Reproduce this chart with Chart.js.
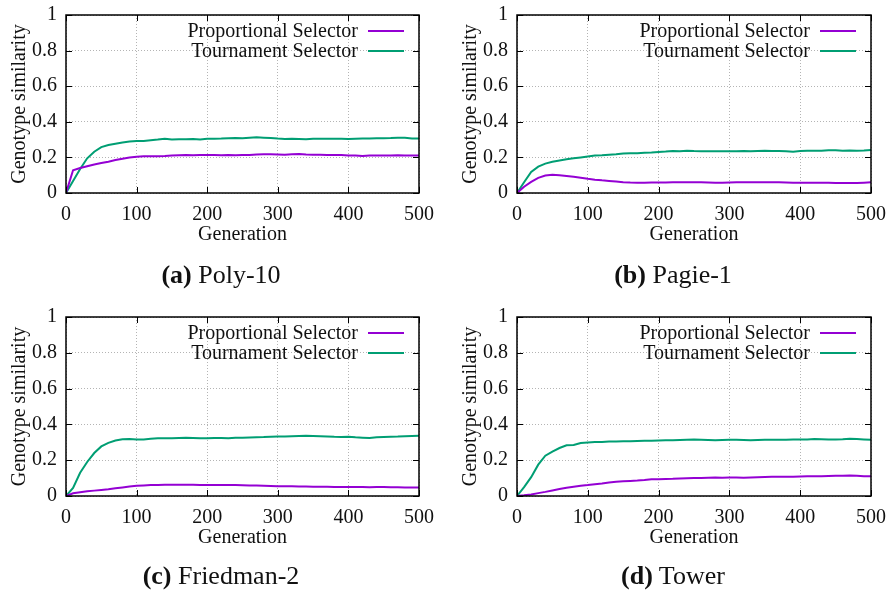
<!DOCTYPE html>
<html><head><meta charset="utf-8">
<script src="https://cdn.jsdelivr.net/npm/chart.js@4"></script>
<style>
body{margin:0;background:#fff;}
#wrap{position:relative;width:888px;height:601px;overflow:hidden;background:#fff;font-family:"Liberation Serif",serif;}
canvas{position:absolute;}
.cap{position:absolute;width:300px;text-align:center;font-size:26px;color:#111;line-height:30px;white-space:nowrap;}
</style></head><body>
<div id="wrap">
<canvas id="c0" width="444" height="300" style="left:0;top:0"></canvas>
<canvas id="c1" width="444" height="300" style="left:444px;top:0"></canvas>
<canvas id="c2" width="444" height="300" style="left:0;top:302px"></canvas>
<canvas id="c3" width="444" height="300" style="left:444px;top:302px"></canvas>
<div class="cap" id="cap0" style="left:71px;top:260px"></div>
<div class="cap" id="cap1" style="left:523px;top:260px"></div>
<div class="cap" id="cap2" style="left:71px;top:561px"></div>
<div class="cap" id="cap3" style="left:523px;top:561px"></div>
</div>
<script>
const generations = [0,10,20,30,40,50,60,70,80,90,100,110,120,130,140,150,160,170,180,190,200,210,220,230,240,250,260,270,280,290,300,310,320,330,340,350,360,370,380,390,400,410,420,430,440,450,460,470,480,490,500];
const xTicks = [0,100,200,300,400,500];
const yTicks = [0,0.2,0.4,0.6,0.8,1];
const seriesNames = ["Proportional Selector","Tournament Selector"];
const panelLetters = ["(a)","(b)","(c)","(d)"];
const panelNames = ["Poly-10","Pagie-1","Friedman-2","Tower"];

const polyProp = [0,0.128,0.14,0.15,0.16,0.168,0.176,0.185,0.193,0.199,0.204,0.206,0.206,0.207,0.208,0.21,0.212,0.213,0.212,0.213,0.213,0.213,0.212,0.213,0.212,0.213,0.214,0.216,0.217,0.217,0.216,0.215,0.218,0.219,0.216,0.215,0.215,0.214,0.213,0.213,0.211,0.211,0.208,0.21,0.21,0.211,0.211,0.212,0.211,0.211,0.21];
const polyTour = [0,0.068,0.135,0.195,0.232,0.258,0.27,0.277,0.284,0.289,0.292,0.292,0.296,0.3,0.305,0.301,0.302,0.302,0.303,0.301,0.305,0.305,0.306,0.308,0.309,0.307,0.31,0.313,0.311,0.309,0.306,0.304,0.305,0.304,0.302,0.305,0.305,0.305,0.305,0.305,0.304,0.305,0.306,0.306,0.307,0.308,0.309,0.311,0.31,0.306,0.306];
const pagieProp = [0,0.035,0.062,0.085,0.098,0.102,0.1,0.096,0.091,0.086,0.08,0.075,0.071,0.068,0.065,0.061,0.059,0.058,0.058,0.059,0.059,0.059,0.06,0.061,0.061,0.06,0.06,0.059,0.058,0.058,0.059,0.06,0.06,0.06,0.06,0.06,0.06,0.06,0.059,0.058,0.058,0.058,0.057,0.057,0.057,0.056,0.056,0.056,0.056,0.058,0.06];
const pagieTour = [0,0.06,0.118,0.148,0.165,0.175,0.183,0.19,0.195,0.2,0.205,0.21,0.212,0.215,0.218,0.222,0.223,0.224,0.226,0.228,0.231,0.233,0.236,0.235,0.238,0.236,0.235,0.234,0.235,0.235,0.234,0.235,0.236,0.235,0.236,0.237,0.236,0.236,0.235,0.232,0.236,0.237,0.237,0.238,0.24,0.24,0.238,0.239,0.238,0.239,0.241];
const friedProp = [0,0.015,0.021,0.026,0.03,0.034,0.038,0.043,0.048,0.053,0.057,0.059,0.061,0.062,0.063,0.063,0.063,0.063,0.063,0.062,0.062,0.062,0.062,0.061,0.061,0.06,0.059,0.058,0.057,0.056,0.055,0.055,0.054,0.053,0.053,0.052,0.052,0.051,0.05,0.05,0.05,0.05,0.05,0.049,0.05,0.05,0.049,0.049,0.048,0.047,0.047];
const friedTour = [0,0.045,0.13,0.19,0.24,0.277,0.297,0.31,0.317,0.318,0.316,0.316,0.32,0.322,0.322,0.323,0.324,0.325,0.324,0.323,0.323,0.324,0.324,0.322,0.325,0.326,0.327,0.328,0.329,0.331,0.332,0.333,0.334,0.335,0.336,0.335,0.334,0.333,0.331,0.33,0.331,0.328,0.326,0.324,0.328,0.33,0.331,0.332,0.334,0.335,0.336];
const towerProp = [0,0.004,0.009,0.016,0.023,0.031,0.039,0.046,0.052,0.057,0.061,0.066,0.07,0.075,0.079,0.082,0.084,0.086,0.089,0.093,0.094,0.095,0.096,0.098,0.099,0.1,0.101,0.102,0.103,0.102,0.103,0.104,0.102,0.104,0.105,0.106,0.107,0.107,0.108,0.108,0.109,0.11,0.11,0.111,0.112,0.113,0.113,0.114,0.113,0.111,0.11];
const towerTour = [0,0.05,0.105,0.175,0.225,0.248,0.268,0.283,0.285,0.296,0.299,0.301,0.302,0.304,0.305,0.306,0.306,0.307,0.308,0.309,0.31,0.311,0.312,0.313,0.314,0.315,0.314,0.313,0.312,0.313,0.314,0.314,0.313,0.311,0.313,0.314,0.314,0.314,0.314,0.315,0.315,0.316,0.318,0.317,0.315,0.316,0.317,0.32,0.318,0.316,0.314];

const panels = [
  {prop: polyProp, tour: polyTour, padLeft: 8, padRight: 25, padBottom: 53},
  {prop: pagieProp, tour: pagieTour, padLeft: 15, padRight: 17, padBottom: 53},
  {prop: friedProp, tour: friedTour, padLeft: 8, padRight: 25, padBottom: 52},
  {prop: towerProp, tour: towerTour, padLeft: 15, padRight: 17, padBottom: 52}
];
const colors = ["#9400d3", "#009e73"];
const FONT = "Liberation Serif";
const FS = 20;

const framePlugin = {
  id: 'frame',
  afterDatasetsDraw(chart) {
    const {ctx, chartArea: a, scales} = chart;
    ctx.save();
    ctx.strokeStyle = '#000';
    ctx.lineWidth = 1;
    const tl = 6;
    ctx.beginPath();
    xTicks.forEach(v => {
      const px = Math.round(scales.x.getPixelForValue(v)) + 0.5;
      ctx.moveTo(px, a.bottom); ctx.lineTo(px, a.bottom - tl);
      ctx.moveTo(px, a.top); ctx.lineTo(px, a.top + tl);
    });
    yTicks.forEach(v => {
      const py = Math.round(scales.y.getPixelForValue(v)) + 0.5;
      ctx.moveTo(a.left, py); ctx.lineTo(a.left + tl, py);
      ctx.moveTo(a.right, py); ctx.lineTo(a.right - tl, py);
    });
    ctx.stroke();
    ctx.lineWidth = 1.5;
    ctx.strokeRect(a.left, a.top, a.right - a.left, a.bottom - a.top);
    // legend
    ctx.font = FS + 'px "' + FONT + '"';
    ctx.textAlign = 'right';
    ctx.textBaseline = 'middle';
    chart.data.datasets.forEach((ds, i) => {
      const y = a.top + 16 + i * 20;
      ctx.fillStyle = '#111';
      ctx.fillText(ds.label, a.right - 61, y + 1);
      ctx.strokeStyle = ds.borderColor;
      ctx.lineWidth = 2.2;
      ctx.beginPath();
      ctx.moveTo(a.right - 51, y); ctx.lineTo(a.right - 15, y);
      ctx.stroke();
    });
    ctx.restore();
  }
};

panels.forEach((p, k) => {
  document.getElementById('cap' + k).innerHTML = '<b>' + panelLetters[k] + '</b> ' + panelNames[k];
  const mk = (vals) => generations.map((g, i) => ({x: g, y: vals[i]}));
  new Chart(document.getElementById('c' + k), {
    type: 'line',
    data: {
      datasets: [
        {label: seriesNames[0], data: mk(p.prop), borderColor: colors[0], borderWidth: 2, pointRadius: 0, tension: 0, fill: false},
        {label: seriesNames[1], data: mk(p.tour), borderColor: colors[1], borderWidth: 2, pointRadius: 0, tension: 0, fill: false}
      ]
    },
    options: {
      responsive: false, animation: false, devicePixelRatio: 1,
      events: [],
      layout: {padding: {left: p.padLeft, right: p.padRight, top: 15, bottom: p.padBottom}},
      plugins: {legend: {display: false}, tooltip: {enabled: false}},
      scales: {
        x: {
          type: 'linear', min: 0, max: 500,
          afterBuildTicks: s => { s.ticks = xTicks.map(v => ({value: v})); },
          afterFit: s => { s.height = 54; s.paddingLeft = 0; s.paddingRight = 0; },
          ticks: {color: '#111', font: {family: FONT, size: FS}, padding: 10, maxRotation: 0, callback: v => String(v)},
          grid: {color: '#b4b4b4', lineWidth: 1, drawTicks: false},
          border: {display: false, dash: [1, 2]},
          title: {display: true, text: 'Generation', color: '#111', font: {family: FONT, size: FS}, padding: {top: 0, bottom: 0}}
        },
        y: {
          min: 0, max: 1,
          afterBuildTicks: s => { s.ticks = yTicks.map(v => ({value: v})); },
          afterFit: s => { s.width = 58; s.paddingTop = 0; s.paddingBottom = 0; },
          ticks: {color: '#111', font: {family: FONT, size: FS}, padding: 9, callback: v => String(+v.toFixed(1))},
          grid: {color: '#b4b4b4', lineWidth: 1, drawTicks: false},
          border: {display: false, dash: [1, 2]},
          title: {display: true, text: 'Genotype similarity', color: '#111', font: {family: FONT, size: FS}, padding: {top: 0, bottom: 0}}
        }
      }
    },
    plugins: [framePlugin]
  });
});
</script>
</body></html>
